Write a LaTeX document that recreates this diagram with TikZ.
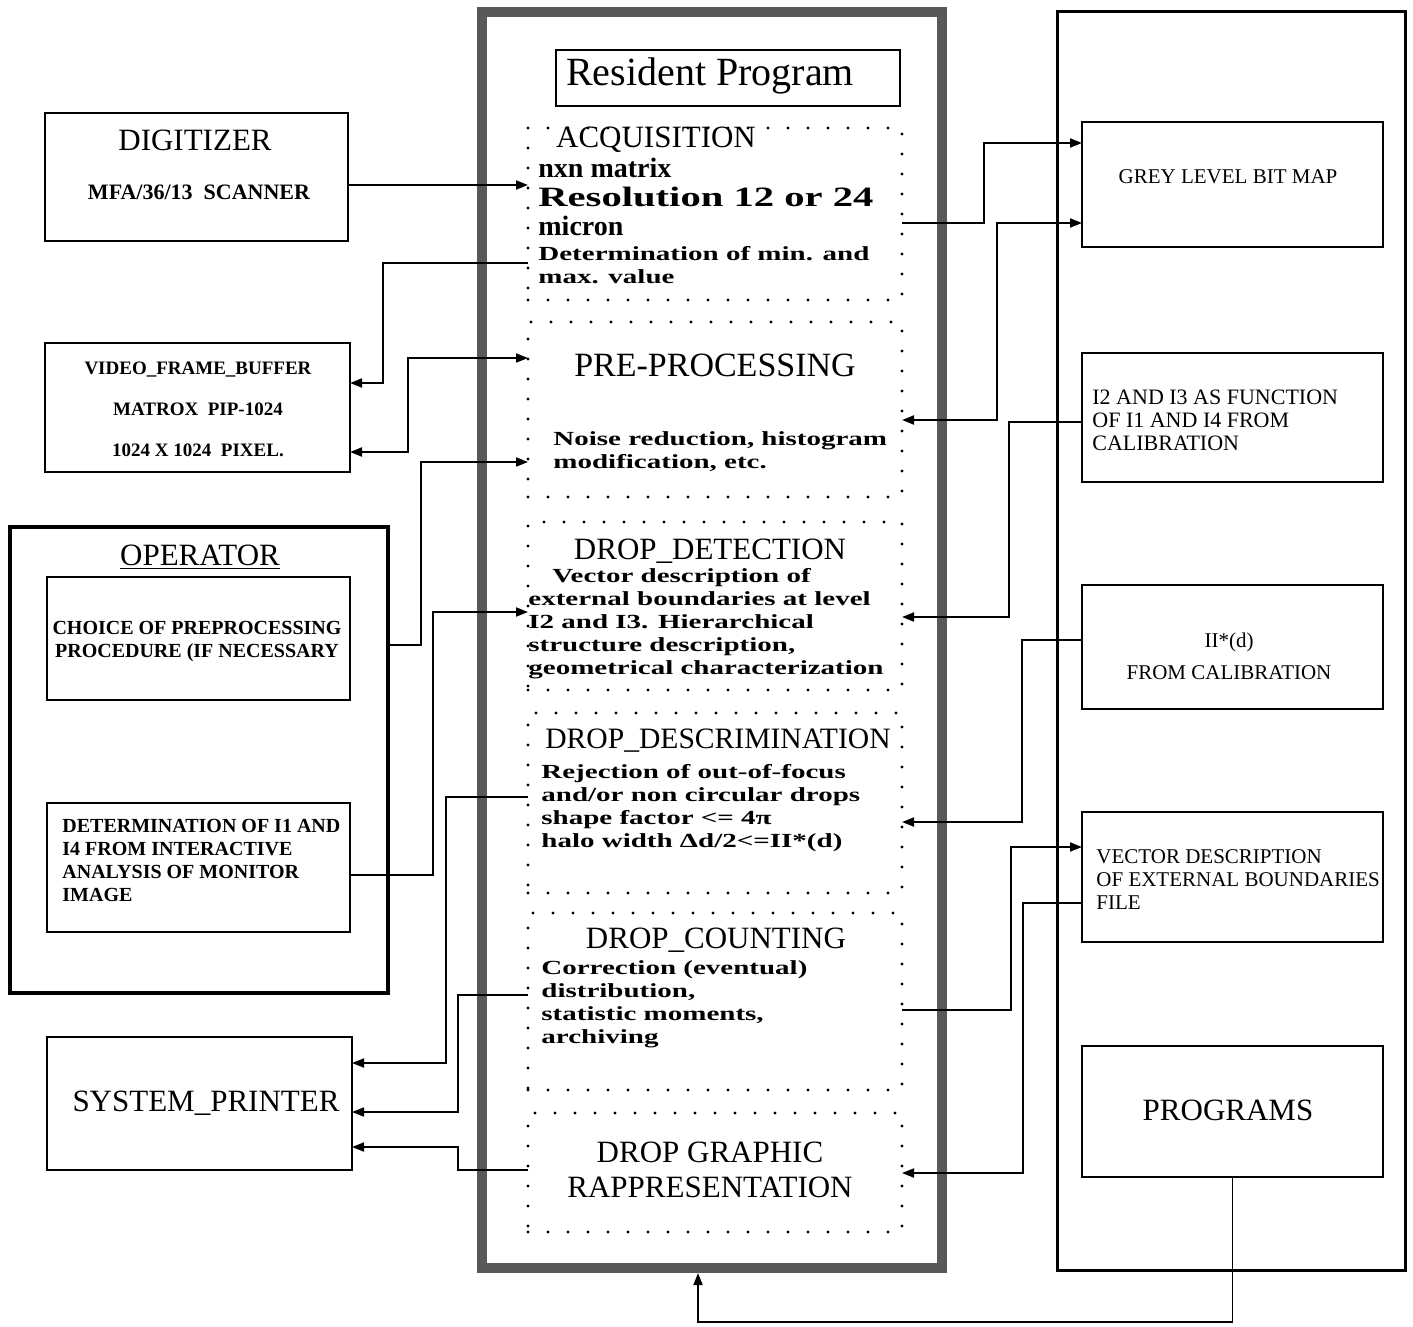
\documentclass[tikz,border=0pt]{standalone}
\usepackage{fontspec}
\setmainfont{Liberation Serif}
\newfontfamily\wideface{Liberation Serif}[FakeStretch=1.45]
\usetikzlibrary{arrows.meta}

\tikzset{
  box/.style={draw,line width=1pt,inner sep=0pt,outer sep=0pt},
  module/.style={draw,line width=1.6pt,line cap=round,dash pattern=on 0pt off 10pt,inner sep=0pt,outer sep=0pt},
  link/.style={line width=0.9pt},
  headline/.style={font=\fontsize{15.5}{17.5}\selectfont,inner sep=0pt,align=center},
  devtext/.style={font=\bfseries\fontsize{10}{11.5}\selectfont,inner sep=0pt,align=center},
  filetext/.style={font=\fontsize{10.5}{11.5}\selectfont,inner sep=0pt,align=left},
  bodytext/.style={font=\wideface\bfseries\fontsize{10}{11.5}\selectfont,inner sep=0pt,align=left,anchor=west},
}

\begin{document}
\begin{tikzpicture}[x=0.5pt,y=-0.5pt,>={Triangle[length=6pt,width=4.5pt]}]
\useasboundingbox (0,0) rectangle (1413,1327);

% devices on the left
\node[box,minimum width=151.5pt,minimum height=64pt] (dig) at (196.5,177) {};
\node[box,minimum width=152.5pt,minimum height=64.5pt] (vfb) at (197.5,407.5) {};
\node[box,line width=2pt,minimum width=189pt,minimum height=233pt] (oper) at (199,760) {};
\node[box,minimum width=151.5pt,minimum height=61.5pt] (choice) at (198.5,638.5) {};
\node[box,minimum width=151.5pt,minimum height=64.5pt] (deter) at (198.5,867.5) {};
\node[box,minimum width=152.5pt,minimum height=66.5pt] (prn) at (199.5,1103.5) {};

\node[headline] (dig-t) at (195,140) {DIGITIZER};
\node[devtext,font=\bfseries\fontsize{11}{12}\selectfont] (dig-s) at (199,192) {MFA/36/13~~SCANNER};
\node[devtext,font=\bfseries\fontsize{9.5}{20.5}\selectfont] (vfb-t) at (198,409) {VIDEO\_FRAME\_BUFFER\\MATROX~~PIP-1024\\1024 X 1024~~PIXEL.};
\node[headline] (oper-t) at (200,557) {\underline{OPERATOR}};
\node[devtext] (choice-t) at (197,642) {CHOICE OF PREPROCESSING\\PROCEDURE (IF NECESSARY};
\node[devtext,align=left,anchor=west] (deter-t) at (62,860) {DETERMINATION OF I1 AND\\I4 FROM INTERACTIVE\\ANALYSIS OF MONITOR\\IMAGE};
\node[headline] (prn-t) at (206,1103) {SYSTEM\_PRINTER};

% resident program
\node[draw=black!65,line width=5pt,minimum width=230pt,minimum height=628pt,inner sep=0pt] (core) at (712,640) {};
\node[box,minimum width=172pt,minimum height=28pt] (res) at (728,78) {};
\node[headline,font=\fontsize{20}{22}\selectfont] (res-t) at (710,76) {Resident~Program};

\foreach \n/\y/\h in {acq/214/86pt, pre/409.5/87.5pt, det/606/84pt, dis/803/90pt, cnt/1001.5/88.5pt, gra/1172.5/59.5pt}
  \node[module,minimum width=187pt,minimum height=\h] (\n) at (715,\y) {};

\node[headline,font=\fontsize{15.5}{17}\selectfont] (acq-t) at (656,140) {ACQUISITION};
\node[bodytext,font=\bfseries\fontsize{14}{14.5}\selectfont] (acq-a) at (538,197) {nxn matrix\\{\wideface Resolution 12 or 24}\\micron};
\node[bodytext] (acq-b) at (538,265.5) {Determination of min. and\\max. value};
\node[headline,font=\fontsize{17}{19}\selectfont] (pre-t) at (715,365) {PRE-PROCESSING};
\node[bodytext] (pre-b) at (553,451.5) {Noise reduction, histogram\\modification, etc.};
\node[headline] (det-t) at (710,551) {DROP\_DETECTION};
\node[bodytext] (det-b) at (528,623.5) {\hspace{12pt}Vector description of\\external boundaries at level\\I2 and I3. Hierarchical\\structure description,\\geometrical characterization};
\node[headline,font=\fontsize{14.8}{17}\selectfont] (dis-t) at (718,741) {DROP\_DESCRIMINATION};
\node[bodytext] (dis-b) at (541,808) {Rejection of out-of-focus\\and/or non circular drops\\shape factor <= 4π\\halo width Δd/2<=II*(d)};
\node[headline] (cnt-t) at (716,940) {DROP\_COUNTING};
\node[bodytext] (cnt-b) at (541,1004.5) {Correction (eventual)\\distribution,\\statistic moments,\\archiving};
\node[headline] (gra-t) at (710,1170) {DROP GRAPHIC\\RAPPRESENTATION};

% files on the right
\node[box,line width=1.5pt,minimum width=174pt,minimum height=629pt] (store) at (1231,641) {};
\foreach \n/\y/\h in {grey/184.5/62.5pt, i23/417.5/64.5pt, ii/647/62pt, vec/877/65pt, prg/1111.5/65.5pt}
  \node[box,minimum width=150.5pt,minimum height=\h] (\n) at (1232.5,\y) {};

\node[filetext] (grey-t) at (1228,177) {GREY LEVEL BIT MAP};
\node[filetext,anchor=west,font=\fontsize{11}{11.5}\selectfont] (i23-t) at (1092,420.5) {I2 AND I3 AS FUNCTION\\OF I1 AND I4 FROM\\CALIBRATION};
\node[filetext,align=center,font=\fontsize{10.5}{16}\selectfont] (ii-t) at (1229,656) {II*(d)\\FROM CALIBRATION};
\node[filetext,anchor=west] (vec-t) at (1096,879.5) {VECTOR DESCRIPTION\\OF EXTERNAL BOUNDARIES\\FILE};
\node[headline] (prg-t) at (1228,1110) {PROGRAMS};

% connections, left side
\draw[link,->] (dig.east |- 0,185) -- (acq.west |- 0,185);
\draw[link,->] (acq.west |- 0,263) -| (383,383) -- (vfb.east |- 0,383);
\draw[link,<->] (vfb.east |- 0,452) -| (408,358) -- (pre.west |- 0,358);
\draw[link,->] (oper.east |- 0,645) -| (421,462) -- (pre.west |- 0,462);
\draw[link,->] (deter.east |- 0,875) -| (433,612) -- (det.west |- 0,612);
\draw[link,->] (dis.west |- 0,797) -| (446,1063) -- (prn.east |- 0,1063);
\draw[link,->] (cnt.west |- 0,995) -| (458,1112) -- (prn.east |- 0,1112);
\draw[link,->] (gra.west |- 0,1170) -| (458,1147) -- (prn.east |- 0,1147);

% connections, right side
\draw[link,->] (acq.east |- 0,223) -| (984,143) -- (grey.west |- 0,143);
\draw[link,<->] (pre.east |- 0,420) -| (997,223) -- (grey.west |- 0,223);
\draw[link,->] (i23.west |- 0,422) -| (1009,617) -- (det.east |- 0,617);
\draw[link,->] (ii.west |- 0,640) -| (1022,822) -- (dis.east |- 0,822);
\draw[link,->] (cnt.east |- 0,1010) -| (1011,847) -- (vec.west |- 0,847);
\draw[link,->] (vec.west |- 0,903) -| (1023,1173) -- (gra.east |- 0,1173);
\draw[link,->] (prg.south) |- (698,1322) -- (core.south -| 698,0);

\end{tikzpicture}
\end{document}
